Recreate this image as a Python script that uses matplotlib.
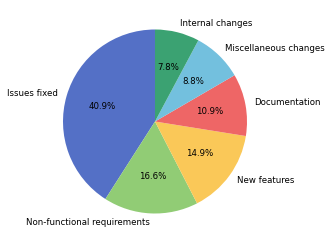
import matplotlib
matplotlib.use("Agg")
import matplotlib.pyplot as plt

# donnees du camembert
labels = ["Issues fixed", "Non-functional requirements", "New features",
          "Documentation", "Miscellaneous changes", "Internal changes"]
shares = [40.9, 16.6, 14.9, 10.9, 8.8, 7.8]
colors = ["#5470c6", "#91cc75", "#fac858", "#ee6666", "#73c0de", "#3ba272"]

fig = plt.figure(figsize=(3.33, 2.44), dpi=100)
ax = fig.add_axes([40 / 333, 7.5 / 244, 230 / 333, 230 / 244])

ax.pie(shares, labels=labels, colors=colors, autopct="%1.1f%%",
       startangle=90, counterclock=True,
       textprops={"fontsize": 6.2})
ax.set_aspect("equal")

fig.savefig("out.png", dpi=100)
